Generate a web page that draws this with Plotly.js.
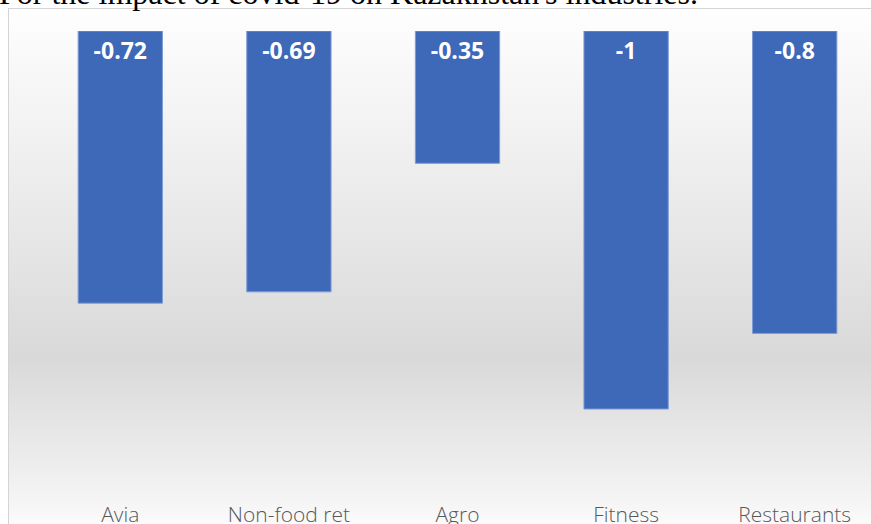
<!DOCTYPE html>
<html>
<head>
<meta charset="utf-8">
<script src="https://cdn.plot.ly/plotly-3.0.1.min.js"></script>
<style>
  html, body { margin: 0; padding: 0; width: 871px; height: 524px; overflow: hidden; background: #ffffff; }
  #bg {
    position: absolute; left: 8px; top: 8px; width: 900px; height: 540px;
    border-left: 1px solid #d4d4d4; border-top: 1px solid #d4d4d4;
    background: linear-gradient(to bottom, #fefefe 0px, #f2f2f2 120px, #e4e4e4 250px, #d9d9d9 349px, #e6e6e6 420px, #f4f4f4 490px, #fbfbfb 516px);
  }
  #title {
    position: absolute; left: -1px; top: -23px; white-space: nowrap; line-height: 32px;
    font-family: "Liberation Serif", "Times New Roman", serif; font-size: 32px; color: #000;
  }
  #chart { position: absolute; left: 0; top: 0; width: 880px; height: 524px; }
</style>
</head>
<body>
<div id="bg"></div>
<div id="chart"></div>
<div id="title">For the impact of covid-19 on Kazakhstan's industries.</div>
<script>
const categories = ["Avia", "Non-food ret", "Agro", "Fitness", "Restaurants"];
const impactValues = [-0.72, -0.69, -0.35, -1, -0.8];
const valueLabels = ["-0.72", "-0.69", "-0.35", "-1", "-0.8"];

const trace = {
  type: "bar",
  x: categories,
  y: impactValues,
  text: valueLabels,
  textposition: "inside",
  insidetextanchor: "start",
  textangle: 0,
  constraintext: "none",
  textfont: { family: "Open Sans, sans-serif", size: 23, color: "#ffffff", weight: 700 },
  marker: { color: "#3e68b8", line: { color: "#7d9bd6", width: 1 } },
  hoverinfo: "none"
};

const layout = {
  width: 880,
  height: 524,
  margin: { l: 36, r: 1, t: 31, b: 24, pad: 0 },
  paper_bgcolor: "rgba(0,0,0,0)",
  plot_bgcolor: "rgba(0,0,0,0)",
  bargap: 0.5,
  showlegend: false,
  xaxis: {
    showgrid: false, zeroline: false, showline: false, ticks: "",
    tickfont: { family: "Open Sans, sans-serif", size: 21, color: "#595959", weight: 300 },
    automargin: false
  },
  yaxis: {
    range: [-1.2407, 0],
    showgrid: false, zeroline: false, showline: false, showticklabels: false, ticks: "",
    automargin: false
  }
};

Plotly.newPlot("chart", [trace], layout, { displayModeBar: false, staticPlot: true });
</script>
</body>
</html>
